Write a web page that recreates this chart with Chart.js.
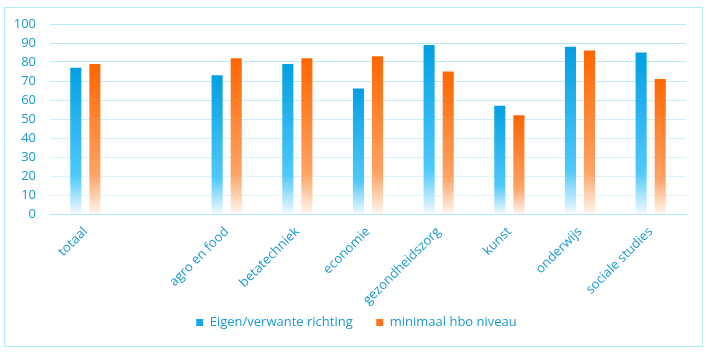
<!DOCTYPE html>
<html>
<head>
<meta charset="utf-8">
<script src="https://cdn.jsdelivr.net/npm/chart.js@4/dist/chart.umd.min.js"></script>
<style>
  html, body { margin: 0; padding: 0; background: #ffffff; }
  #box { position: absolute; left: 4px; top: 7px; width: 697px; height: 338px; border: 1px solid #b4e9fb; background: #fff; }
  #c { display: block; }
</style>
</head>
<body>
<div id="box"><canvas id="c" width="697" height="338"></canvas></div>
<script>
const categories = ["totaal", "", "agro en food", "betatechniek", "economie", "gezondheidszorg", "kunst", "onderwijs", "sociale studies"];
const eigenRichting = [77, null, 73, 79, 66, 89, 57, 88, 85];
const minimaalHbo = [79, null, 82, 82, 83, 75, 52, 86, 71];
const yTicks = [0, 10, 20, 30, 40, 50, 60, 70, 80, 90, 100];
const seriesNames = ['Eigen/verwante richting', 'minimaal hbo niveau'];

function barGradient(ctx, top, mid, light) {
  const chart = ctx.chart;
  const y = chart.scales && chart.scales.y;
  if (!chart.chartArea || !y || ctx.raw == null) return top;
  const yTop = y.getPixelForValue(ctx.raw);
  const yBot = y.getPixelForValue(0);
  const g = chart.ctx.createLinearGradient(0, yTop, 0, yBot);
  g.addColorStop(0, top);
  g.addColorStop(0.74, mid);
  g.addColorStop(1, light);
  return g;
}

const FONT = "'Open Sans', sans-serif";
const TXT = "#1a9ad0";

const legendShift = {
  id: 'legendShift',
  afterLayout(chart) {
    if (chart.legend) { chart.legend.left += 11; chart.legend.right += 11; }
  }
};

new Chart(document.getElementById('c'), {
  type: 'bar',
  plugins: [legendShift],
  data: {
    labels: categories,
    datasets: [
      {
        label: seriesNames[0],
        data: eigenRichting,
        backgroundColor: (ctx) => ctx.type === 'data' ? barGradient(ctx, '#039fe2', '#4fc9fb', '#f2faff') : '#1aa6e8',
        categoryPercentage: 0.54,
        barPercentage: 0.58
      },
      {
        label: seriesNames[1],
        data: minimaalHbo,
        backgroundColor: (ctx) => ctx.type === 'data' ? barGradient(ctx, '#ff6600', '#ffa364', '#fff6f0') : '#ff731c',
        categoryPercentage: 0.54,
        barPercentage: 0.58
      }
    ]
  },
  options: {
    responsive: false,
    animation: false,
    layout: { padding: { left: 0, right: 16, top: 16, bottom: 7 } },
    plugins: {
      legend: {
        position: 'bottom',
        labels: {
          color: TXT,
          font: { family: FONT, size: 13 },
          boxWidth: 7,
          boxHeight: 7,
          padding: 10,
          generateLabels: (chart) => [
            { text: seriesNames[0] + '    ', fillStyle: '#1aa6e8', strokeStyle: '#1aa6e8', lineWidth: 0, fontColor: TXT, datasetIndex: 0 },
            { text: seriesNames[1], fillStyle: '#ff731c', strokeStyle: '#ff731c', lineWidth: 0, fontColor: TXT, datasetIndex: 1 }
          ]
        }
      },
      tooltip: { enabled: false }
    },
    scales: {
      x: {
        afterFit: (axis) => { axis.height = 92; },
        grid: { display: false, drawTicks: false },
        border: { display: true, color: '#b4e9fb', width: 1 },
        ticks: {
          color: TXT,
          font: { family: FONT, size: 13 },
          maxRotation: 45,
          minRotation: 45,
          padding: 10,
          autoSkip: false
        }
      },
      y: {
        min: 0,
        max: 100,
        afterFit: (axis) => { axis.width = 45; axis.paddingTop = 0; axis.paddingBottom = 0; },
        afterBuildTicks: (axis) => { axis.ticks = yTicks.map(v => ({ value: v })); },
        grid: {
          drawTicks: false,
          color: (ctx) => {
            const v = ctx.tick ? ctx.tick.value : 0;
            if (v === 0) return '#b4e9fb';
            const t = v / 100;
            const r = Math.round(232 - 58 * t), g = Math.round(246 - 14 * t), b = Math.round(251 - 1 * t);
            return `rgb(${r},${g},${b})`;
          },
          lineWidth: 1
        },
        border: { display: false },
        ticks: {
          color: TXT,
          font: { family: FONT, size: 13 },
          padding: 14,
          autoSkip: false
        }
      }
    }
  }
});
</script>
</body>
</html>
